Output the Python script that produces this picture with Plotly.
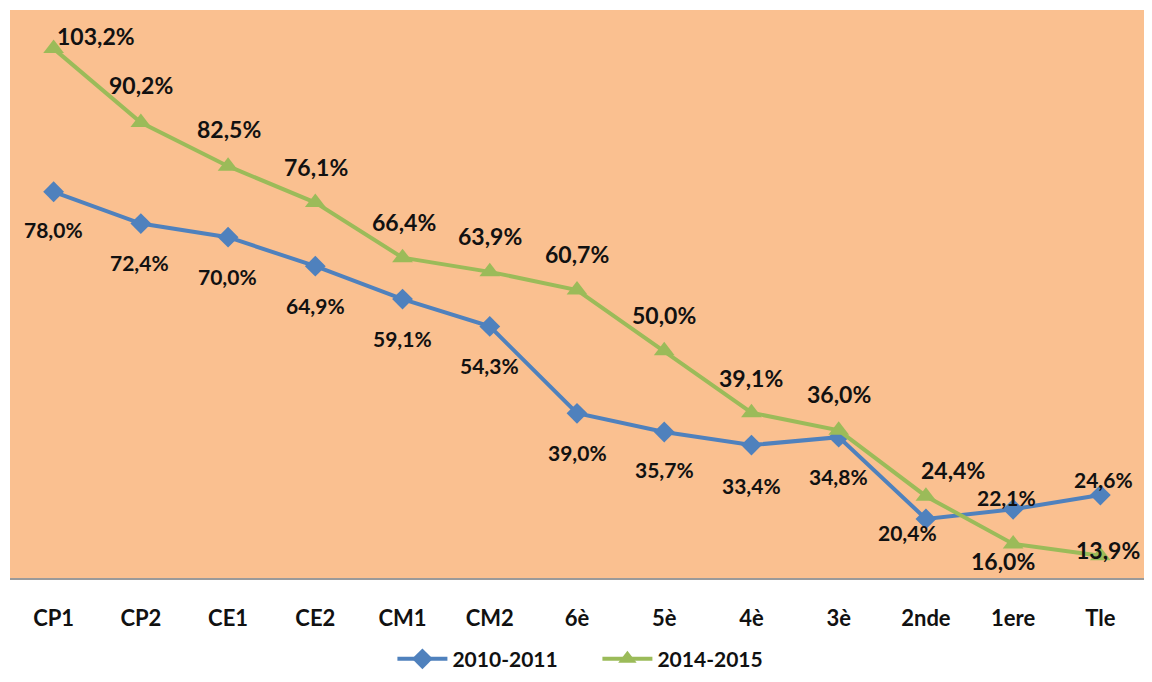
import plotly.graph_objects as go

# data
levels = ["CP1", "CP2", "CE1", "CE2", "CM1", "CM2", "6è", "5è", "4è", "3è", "2nde", "1ere", "Tle"]
rate_2010 = [78.0, 72.4, 70.0, 64.9, 59.1, 54.3, 39.0, 35.7, 33.4, 34.8, 20.4, 22.1, 24.6]
rate_2014 = [103.2, 90.2, 82.5, 76.1, 66.4, 63.9, 60.7, 50.0, 39.1, 36.0, 24.4, 16.0, 13.9]

# label offsets in pixels (dx, dy)
off_2010 = [(0, -38), (-1, -39), (-1, -39), (0, -39), (0, -39), (0, -39), (0, -39),
            (0, -37), (0, -40), (0, -39), (-18, -14), (-7, 12), (3, 16)]
off_2014 = [(42, 13), (0, 37), (1, 37), (1, 36), (1, 36), (0, 36), (0, 36),
            (0, 36), (0, 35), (0, 36), (27, 26), (-10, -17), (8, 6)]

BLUE = "#4F81BD"
GREEN = "#9BBB59"
FONT = "Lato"

fig = go.Figure()
fig.add_trace(go.Scatter(
    x=levels, y=rate_2010, mode="lines+markers", name="2010-2011",
    line=dict(color=BLUE, width=4),
    marker=dict(symbol="diamond", size=16, color=BLUE),
))
fig.add_trace(go.Scatter(
    x=levels, y=rate_2014, mode="lines+markers", name="2014-2015",
    line=dict(color=GREEN, width=4),
    marker=dict(symbol="triangle-up", size=18, color=GREEN),
))

def fmt(v):
    return f"{v:.1f}%".replace(".", ",")

for lv, v, (dx, dy) in zip(levels, rate_2010, off_2010):
    fig.add_annotation(x=lv, y=v, text=fmt(v), showarrow=False, xshift=dx, yshift=dy,
                       font=dict(family=FONT, size=21, color="#111111", weight="bold"))
for lv, v, (dx, dy) in zip(levels, rate_2014, off_2014):
    fig.add_annotation(x=lv, y=v, text=fmt(v), showarrow=False, xshift=dx, yshift=dy,
                       font=dict(family=FONT, size=23, color="#111111", weight="bold"))

# page body has an 8px margin, so the figure is sized to fit inside it
fig.update_layout(
    width=1136, height=666,
    margin=dict(l=2, r=0, t=2, b=96, autoexpand=False),
    paper_bgcolor="white",
    plot_bgcolor="#FAC090",
    font=dict(family=FONT, size=20, color="#111111"),
    showlegend=True,
    legend=dict(orientation="h", x=0.518, xanchor="center", y=-0.143, yanchor="middle",
                font=dict(family=FONT, size=21, color="#111111", weight="bold"),
                itemwidth=50, entrywidth=140, tracegroupgap=0),
)
fig.update_xaxes(range=[-0.5, 12.5], showgrid=False, zeroline=False,
                 showline=True, linecolor="#9a9a9a", linewidth=1.5,
                 ticks="", ticklabelstandoff=20,
                 tickfont=dict(family=FONT, size=22, color="#111111", weight="bold"))
fig.update_yaxes(range=[10, 110], showgrid=False, zeroline=False, showticklabels=False,
                 showline=False)

fig.write_html("out.html")
